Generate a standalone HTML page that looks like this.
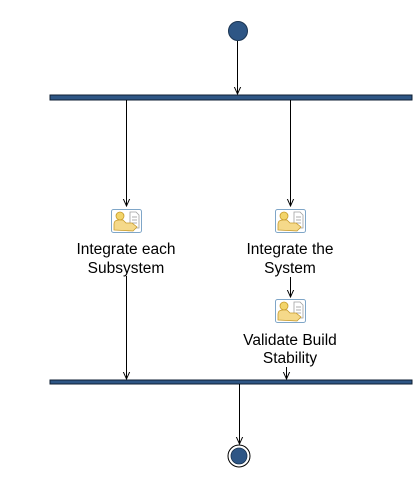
<!DOCTYPE html>
<html><head><meta charset="utf-8"><style>
html,body{margin:0;padding:0;background:#fff;}
svg{display:block;}
text{font-family:"Liberation Sans",Arial,sans-serif;font-size:15.5px;fill:#000;}
</style></head><body>
<svg width="414" height="489" viewBox="0 0 414 489" xmlns="http://www.w3.org/2000/svg">
<defs>
<g id="icon">
  <rect x="0.5" y="0.5" width="30" height="23" rx="2" fill="#fff" stroke="#7fa6c8" stroke-width="1"/>
  <path d="M19 3 h6 l3 3 v13 h-9z" fill="#fff" stroke="#a0a0a0" stroke-width="0.8"/>
  <line x1="21" y1="8" x2="26" y2="8" stroke="#999" stroke-width="0.8"/>
  <line x1="21" y1="11" x2="26" y2="11" stroke="#999" stroke-width="0.8"/>
  <line x1="21" y1="14" x2="26" y2="14" stroke="#999" stroke-width="0.8"/>
  <circle cx="9" cy="7" r="4" fill="#f2d46a" stroke="#c79a2a" stroke-width="0.8"/>
  <path d="M3 21 v-6 q0-4 5-4 h4 l3 3 h6 l5 4 l-4 4 z" fill="#f5d98a" stroke="#c79a2a" stroke-width="0.8"/>
</g>
<marker id="ar" viewBox="0 0 10 10" refX="9" refY="5" markerWidth="8" markerHeight="8" orient="auto">
  <path d="M0 1 L9 5 L0 9" fill="none" stroke="#000" stroke-width="1.2"/>
</marker>
</defs>
<circle cx="238" cy="31" r="9.5" fill="#2e5685" stroke="#1b3552" stroke-width="1"/>
<line x1="237.5" y1="41" x2="237.5" y2="94" stroke="#000" marker-end="url(#ar)"/>
<rect x="50" y="95" width="362" height="5" fill="#2e5685" stroke="#0f1f33" stroke-width="1"/>
<line x1="126.5" y1="100" x2="126.5" y2="206" stroke="#000" marker-end="url(#ar)"/>
<line x1="290.5" y1="100" x2="290.5" y2="206" stroke="#000" marker-end="url(#ar)"/>
<use href="#icon" x="111" y="209"/>
<use href="#icon" x="275" y="209"/>
<text x="126" y="254" text-anchor="middle">Integrate each</text>
<text x="126" y="273" text-anchor="middle">Subsystem</text>
<text x="290" y="254" text-anchor="middle">Integrate the</text>
<text x="290" y="273" text-anchor="middle">System</text>
<line x1="290.5" y1="277" x2="290.5" y2="297" stroke="#000" marker-end="url(#ar)"/>
<use href="#icon" x="275" y="299"/>
<text x="290" y="345" text-anchor="middle">Validate Build</text>
<text x="290" y="363" text-anchor="middle">Stability</text>
<line x1="126.5" y1="276" x2="126.5" y2="379" stroke="#000" marker-end="url(#ar)"/>
<line x1="286.5" y1="367" x2="286.5" y2="379" stroke="#000" marker-end="url(#ar)"/>
<rect x="50" y="380" width="362" height="4" fill="#2e5685" stroke="#0f1f33" stroke-width="1"/>
<line x1="239.5" y1="384" x2="239.5" y2="444" stroke="#000" marker-end="url(#ar)"/>
<circle cx="239" cy="456" r="11" fill="#fff" stroke="#000" stroke-width="1"/>
<circle cx="239" cy="456" r="8" fill="#2e5685" stroke="#1b3552" stroke-width="0.8"/>
</svg>
</body></html>
